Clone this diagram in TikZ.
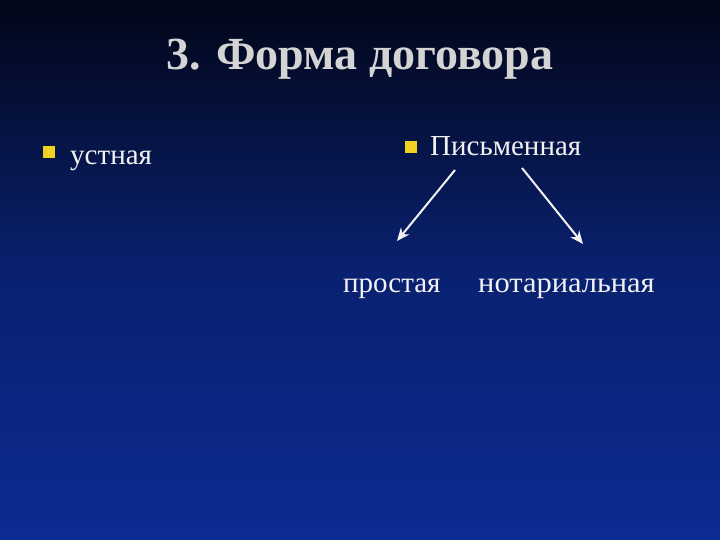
\documentclass[tikz,border=0pt]{standalone}
\usepackage{fontspec}
\setmainfont{Liberation Serif}
\definecolor{bgtop}{HTML}{020618}
\definecolor{bgbot}{HTML}{0C2C94}
\definecolor{txt}{HTML}{F2F2F2}
\definecolor{ttl}{HTML}{D4D4D4}
\definecolor{bul}{HTML}{F0D020}
\tikzset{
  lbl/.style={text=txt,font=\fontsize{29}{32}\selectfont,inner sep=0pt,anchor=base west},
  bulletbox/.style={fill=bul,minimum size=12pt,inner sep=0pt},
  arr/.style={draw=txt,line width=2pt,-{Stealth[length=13pt,width=11pt]}}
}
\usetikzlibrary{arrows.meta}
\begin{document}
\begin{tikzpicture}[x=1pt,y=-1pt]
\shade[top color=bgtop,bottom color=bgbot,middle color=bgbot!70!bgtop] (0,0) rectangle (720,540);
\useasboundingbox (0,0) rectangle (720,540);
\node[text=ttl,font=\fontsize{46}{50}\selectfont\bfseries,anchor=base] (title) at (360,70) {3. Форма договора};
\node[bulletbox] (b1) at (49,152) {};
\node[lbl] (ust) at (70,165) {устная};
\node[bulletbox] (b2) at (411,147) {};
\node[lbl] (pis) at (430,156) {Письменная};
\node[lbl] (pro) at (343,292) {простая};
\node[lbl,xscale=1.05] (not) at (478,292) {нотариальная};
\coordinate (a1s) at (455,170); \coordinate (a1e) at (397,241);
\coordinate (a2s) at (522,168); \coordinate (a2e) at (583,244);
\draw[arr] (a1s) -- (a1e);
\draw[arr] (a2s) -- (a2e);
\end{tikzpicture}
\end{document}
